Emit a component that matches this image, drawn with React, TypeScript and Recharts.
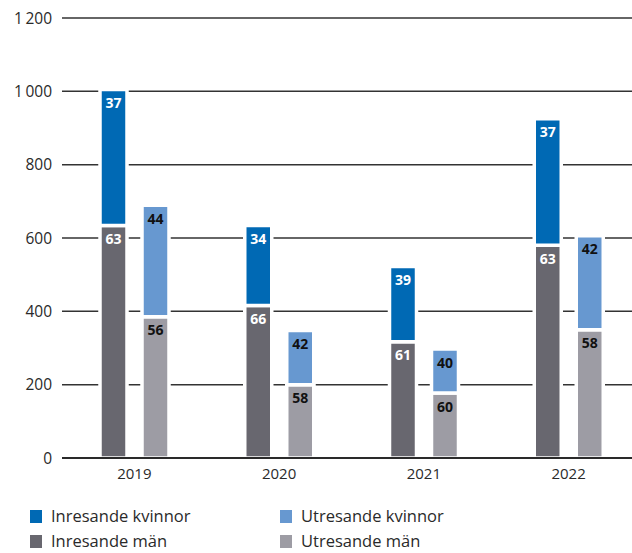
import { BarChart, Bar, XAxis, YAxis, CartesianGrid, LabelList, ReferenceLine } from 'recharts';

// Inresande / utresande per år, antal personer + andel (%) per kön
const years = ['2019', '2020', '2021', '2022'];
const inresandeMan = [634, 416, 317, 580];
const inresandeKvinnor = [371, 218, 205, 345];
const utresandeMan = [385, 200, 177, 350];
const utresandeKvinnor = [304, 148, 120, 256];
const inresandeManPct = [63, 66, 61, 63];
const inresandeKvinnorPct = [37, 34, 39, 37];
const utresandeManPct = [56, 58, 60, 58];
const utresandeKvinnorPct = [44, 42, 40, 42];
const yTicks = [0, 200, 400, 600, 800, 1000, 1200];

const FONT = "'Open Sans', sans-serif";
const C_IN_K = '#0069b4';
const C_UT_K = '#6798d0';
const C_IN_M = '#68676f';
const C_UT_M = '#9d9ca4';

const data = years.map((year, i) => ({
    year,
    inM: inresandeMan[i],
    inK: inresandeKvinnor[i],
    utM: utresandeMan[i],
    utK: utresandeKvinnor[i],
    inMPct: inresandeManPct[i],
    inKPct: inresandeKvinnorPct[i],
    utMPct: utresandeManPct[i],
    utKPct: utresandeKvinnorPct[i],
}));

function fmtTick(v: number): string {
    if (v >= 1000) return `${Math.floor(v / 1000)}\u2009${String(v % 1000).padStart(3, '0')}`;
    return String(v);
}

// label at the top inside each segment
function segLabel(color: string) {
    return (props: any) => {
        const { x, y, width, value } = props;
        return (
            <text
                x={Number(x) + Number(width) / 2}
                y={Number(y) + 13}
                textAnchor="middle"
                dominantBaseline="central"
                fill={color}
                fontFamily={FONT}
                fontWeight={700}
                fontSize={14}
            >
                {value}
            </text>
        );
    };
}

const legendItems = [
    { label: 'Inresande kvinnor', color: C_IN_K, x: 30, y: 516 },
    { label: 'Utresande kvinnor', color: C_UT_K, x: 280, y: 516 },
    { label: 'Inresande män', color: C_IN_M, x: 30, y: 541 },
    { label: 'Utresande män', color: C_UT_M, x: 280, y: 541 },
];

export default function App() {
    return (
        <div
            style={{
                position: 'absolute',
                left: 0,
                top: 0,
                width: 632,
                height: 553,
                overflow: 'hidden',
                background: '#fff',
                fontFamily: FONT,
            }}
        >
            <BarChart
                width={641}
                height={490}
                data={data}
                margin={{ top: 18, right: 0, bottom: 0, left: 0 }}
                barSize={27}
                barGap={15}
            >
                <CartesianGrid vertical={false} stroke="#333" strokeWidth={1.5} />
                <XAxis
                    dataKey="year"
                    tickLine={false}
                    axisLine={false}
                    height={32}
                    tick={{ fill: '#2a2a2a', fontSize: 15, fontFamily: FONT }}
                    dy={2}
                />
                <YAxis
                    width={62}
                    domain={[0, 1200]}
                    ticks={yTicks}
                    tickFormatter={fmtTick}
                    tickLine={false}
                    axisLine={false}
                    tick={{ fill: '#2a2a2a', fontSize: 15.5, fontFamily: FONT }}
                    dx={-2}
                />
                <Bar dataKey="inM" stackId="in" fill={C_IN_M} stroke="#fff" strokeWidth={3.5} isAnimationActive={false}>
                    <LabelList dataKey="inMPct" content={segLabel('#fff')} />
                </Bar>
                <Bar dataKey="inK" stackId="in" fill={C_IN_K} stroke="#fff" strokeWidth={3.5} isAnimationActive={false}>
                    <LabelList dataKey="inKPct" content={segLabel('#fff')} />
                </Bar>
                <Bar dataKey="utM" stackId="ut" fill={C_UT_M} stroke="#fff" strokeWidth={3.5} isAnimationActive={false}>
                    <LabelList dataKey="utMPct" content={segLabel('#111')} />
                </Bar>
                <Bar dataKey="utK" stackId="ut" fill={C_UT_K} stroke="#fff" strokeWidth={3.5} isAnimationActive={false}>
                    <LabelList dataKey="utKPct" content={segLabel('#111')} />
                </Bar>
                <ReferenceLine y={0} stroke="#2a2a2a" strokeWidth={2} />
            </BarChart>
            {legendItems.map((it) => (
                <div
                    key={it.label}
                    style={{
                        position: 'absolute',
                        left: it.x,
                        top: it.y - 11,
                        display: 'flex',
                        alignItems: 'center',
                        fontSize: 16.5,
                        lineHeight: '22px',
                        color: '#2a2a2a',
                        whiteSpace: 'nowrap',
                    }}
                >
                    <span style={{ display: 'inline-block', width: 12, height: 13, background: it.color, marginRight: 9 }} />
                    {it.label}
                </div>
            ))}
        </div>
    );
}
